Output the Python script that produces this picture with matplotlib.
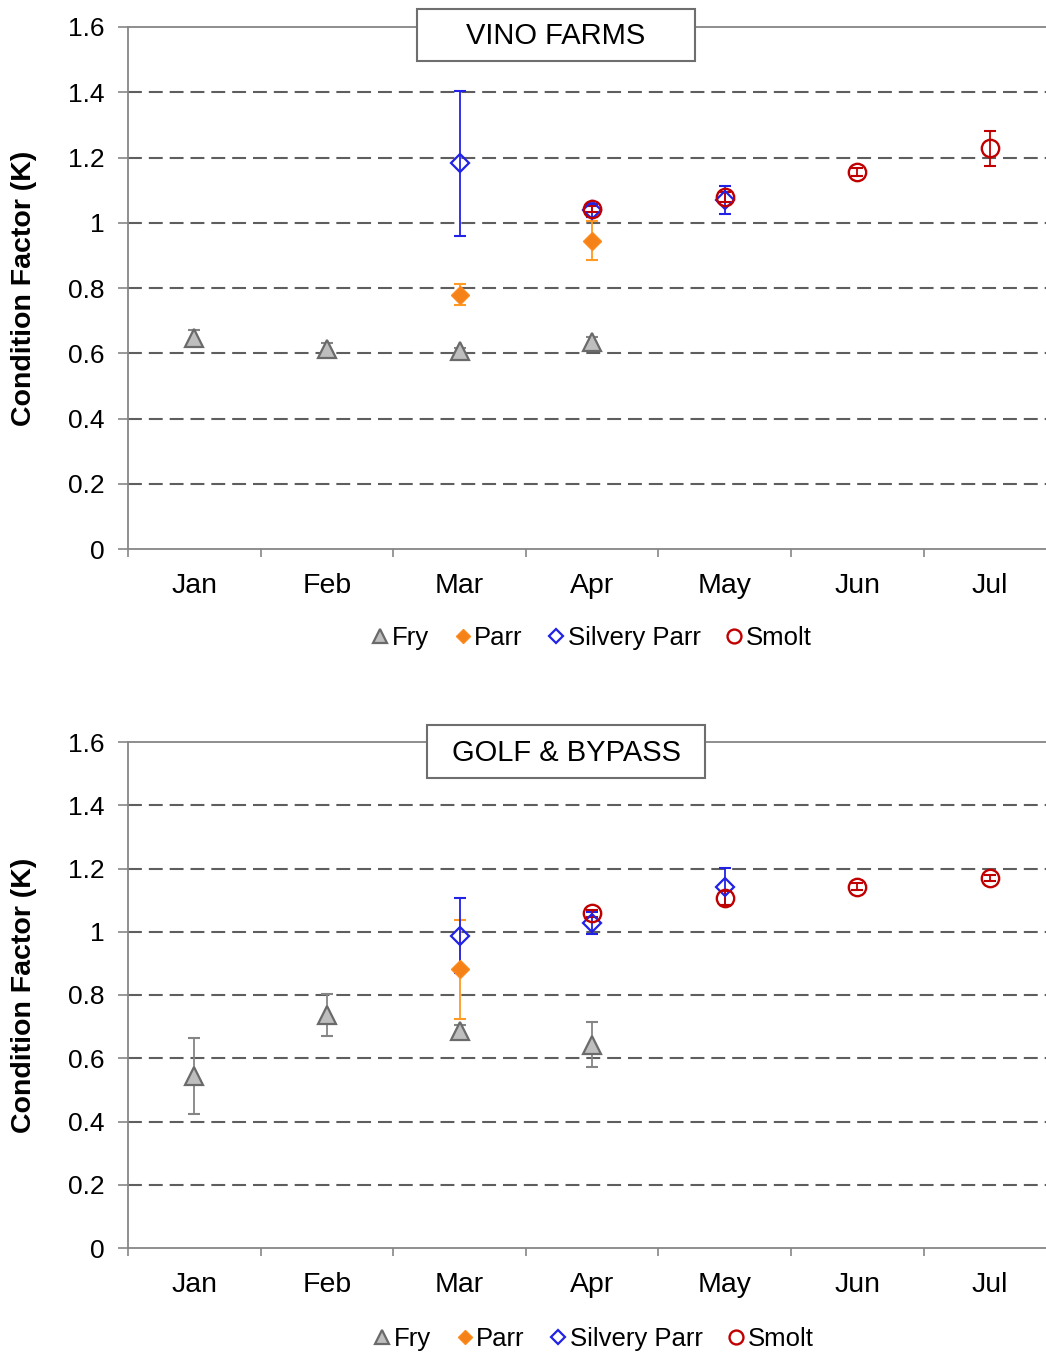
import matplotlib
matplotlib.use("Agg")
import matplotlib.pyplot as plt
from matplotlib.lines import Line2D
from matplotlib.patches import Rectangle

plt.rcParams['font.family'] = ['Liberation Sans', 'DejaVu Sans']

months = ['Jan', 'Feb', 'Mar', 'Apr', 'May', 'Jun', 'Jul']
ytick_vals = [0, 0.2, 0.4, 0.6, 0.8, 1.0, 1.2, 1.4, 1.6]
ytick_labels = ['0', '0.2', '0.4', '0.6', '0.8', '1', '1.2', '1.4', '1.6']
series_names = ['Fry', 'Parr', 'Silvery Parr', 'Smolt']

# ---- VINO FARMS ----
vf_fry_months = ['Jan', 'Feb', 'Mar', 'Apr']
vf_fry = [0.647, 0.612, 0.607, 0.633]
vf_fry_err = [0.024, 0.020, 0.010, 0.017]
vf_parr_months = ['Mar', 'Apr']
vf_parr = [0.779, 0.945]
vf_parr_err = [0.032, 0.060]
vf_silv_months = ['Mar', 'Apr', 'May']
vf_silv = [1.182, 1.039, 1.070]
vf_silv_err = [0.222, 0.020, 0.043]
vf_smolt_months = ['Apr', 'May', 'Jun', 'Jul']
vf_smolt = [1.042, 1.080, 1.155, 1.228]
vf_smolt_err = [0.010, 0.015, 0.012, 0.054]

# ---- GOLF & BYPASS ----
gb_fry_months = ['Jan', 'Feb', 'Mar', 'Apr']
gb_fry = [0.544, 0.737, 0.686, 0.643]
gb_fry_err = [0.121, 0.066, 0.020, 0.071]
gb_parr_months = ['Mar']
gb_parr = [0.881]
gb_parr_err = [0.157]
gb_silv_months = ['Mar', 'Apr', 'May']
gb_silv = [0.987, 1.027, 1.143]
gb_silv_err = [0.119, 0.035, 0.058]
gb_smolt_months = ['Apr', 'May', 'Jun', 'Jul']
gb_smolt = [1.058, 1.106, 1.143, 1.169]
gb_smolt_err = [0.012, 0.022, 0.010, 0.010]

W, H = 1046, 1354
fig = plt.figure(figsize=(W / 100, H / 100), dpi=100)

styles = {
    'Fry': dict(marker='^', ms=12.5, mfc='#BEBEBE', mec='#6A6A6A', mew=1.6, ecolor='#858585'),
    'Parr': dict(marker='D', ms=9.5, mfc='#F58219', mec='#FF8A1C', mew=1.0, ecolor='#FF9A22'),
    'Silvery Parr': dict(marker='D', ms=9.5, mfc='none', mec='#2222E6', mew=1.6, ecolor='#2222E6'),
    'Smolt': dict(marker='o', ms=12.5, mfc='none', mec='#C00000', mew=1.7, ecolor='#C00000'),
}

def pix_axes(top, bottom):
    left = 128 / W
    return [left, 1 - bottom / H, 1.0 - left, (bottom - top) / H]

def setup(ax):
    for v in ytick_vals[1:-1]:
        ax.axhline(v, color='#5E5E5E', lw=1.5, dashes=(10 / 1.5, 5 / 1.5), zorder=1)
    ax.axhline(1.6, color='#7A7A7A', lw=1.2, zorder=1, clip_on=False)
    for s in ['top', 'right']:
        ax.spines[s].set_visible(False)
    for s in ['left', 'bottom']:
        ax.spines[s].set_color('#868686')
        ax.spines[s].set_linewidth(1.3)
    ax.set_yticks(ytick_vals)
    ax.set_yticklabels(ytick_labels, fontsize=19)
    ax.tick_params(axis='y', direction='out', length=7, width=1.2, color='#868686', pad=10)
    ax.set_xticks([i - 0.5 for i in range(len(months) + 1)])
    ax.set_xticklabels([])
    ax.tick_params(axis='x', which='major', direction='out', length=6, width=1.2, color='#868686')
    ax.set_xticks(range(len(months)), minor=True)
    ax.set_xticklabels(months, minor=True, fontsize=20.5)
    ax.tick_params(axis='x', which='minor', length=0, pad=17)
    ax.set_ylabel('Condition Factor (K)', fontsize=20.5, fontweight='bold')
    ax.yaxis.set_label_coords(-91 / (W - 128), 0.5)
    ax.set_xlim(-0.5, -0.5 + (W - 128) / 132.6)
    ax.set_ylim(0, 1.6)

def plot_series(ax, name, mlist, vals, errs):
    st = dict(styles[name])
    ecolor = st.pop('ecolor')
    xs = [months.index(m) for m in mlist]
    ax.errorbar(xs, vals, yerr=errs, fmt='none', ecolor=ecolor, elinewidth=1.3,
                capsize=4.3, capthick=1.5, zorder=3)
    ax.plot(xs, vals, linestyle='none', zorder=4, **st)

def title_box(text, x0, x1, y0, y1):
    fig.add_artist(Rectangle((x0 / W, 1 - y1 / H), (x1 - x0) / W, (y1 - y0) / H,
                             transform=fig.transFigure, facecolor='white',
                             edgecolor='#6E6E6E', lw=1.5, zorder=5))
    fig.text((x0 + x1) / 2 / W, 1 - (y0 + y1) / 2 / H - 0.001, text, ha='center', va='center',
             fontsize=21, zorder=6)

def legend(cx, cy):
    handles = []
    for name in series_names:
        st = dict(styles[name])
        st.pop('ecolor')
        st['ms'] = st['ms'] * 0.8
        handles.append(Line2D([], [], linestyle='none', **st))
    fig.legend(handles, series_names, loc='center', bbox_to_anchor=(cx / W, 1 - cy / H),
               ncol=4, frameon=False, fontsize=18.5, handlelength=0.6, handletextpad=0.15,
               columnspacing=1.0, borderpad=0)

ax1 = fig.add_axes(pix_axes(27, 549))
setup(ax1)
plot_series(ax1, 'Fry', vf_fry_months, vf_fry, vf_fry_err)
plot_series(ax1, 'Parr', vf_parr_months, vf_parr, vf_parr_err)
plot_series(ax1, 'Silvery Parr', vf_silv_months, vf_silv, vf_silv_err)
plot_series(ax1, 'Smolt', vf_smolt_months, vf_smolt, vf_smolt_err)
title_box('VINO FARMS', 417, 695, 9, 61)
legend(592, 638)

ax2 = fig.add_axes(pix_axes(742, 1248))
setup(ax2)
plot_series(ax2, 'Fry', gb_fry_months, gb_fry, gb_fry_err)
plot_series(ax2, 'Parr', gb_parr_months, gb_parr, gb_parr_err)
plot_series(ax2, 'Silvery Parr', gb_silv_months, gb_silv, gb_silv_err)
plot_series(ax2, 'Smolt', gb_smolt_months, gb_smolt, gb_smolt_err)
title_box('GOLF & BYPASS', 427, 705, 725, 778)
legend(594, 1339)

fig.savefig('out.png', dpi=100, facecolor='white')
